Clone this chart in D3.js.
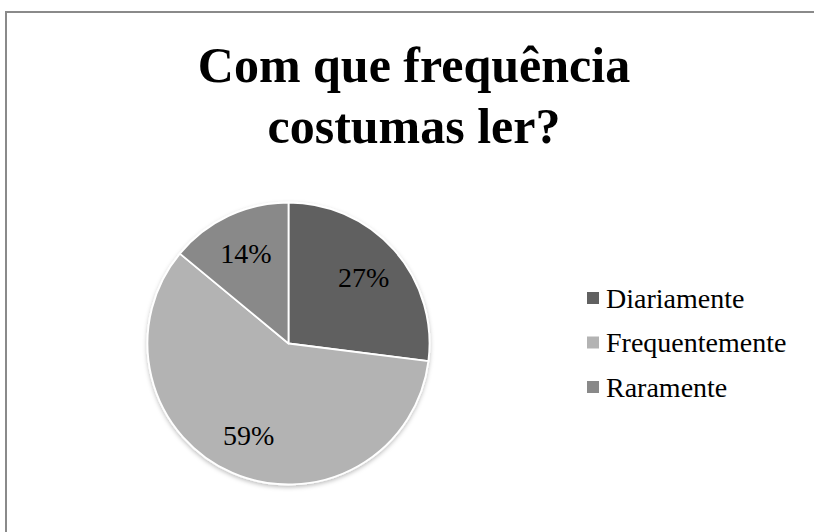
<!DOCTYPE html>
<html>
<head>
<meta charset="utf-8">
<script src="https://cdn.jsdelivr.net/npm/d3@7"></script>
<style>
  body { margin: 0; background: #fff; overflow: hidden; }
  svg { display: block; }
</style>
</head>
<body>
<script>
// data
var categories = ["Diariamente", "Frequentemente", "Raramente"];
var values = [27, 59, 14];
var titleLines = ["Com que frequência", "costumas ler?"];

var width = 814;
var height = 532;
var colors = ["#616161", "#b3b3b3", "#898989"];

var svg = d3.select("body")
  .append("svg")
  .attr("width", width)
  .attr("height", height);

// drop shadow for the pie
var defs = svg.append("defs");
var shadow = defs.append("filter")
  .attr("id", "shadow")
  .attr("x", "-10%").attr("y", "-10%")
  .attr("width", "120%").attr("height", "120%");
shadow.append("feDropShadow")
  .attr("dx", 0).attr("dy", 2)
  .attr("stdDeviation", 2)
  .attr("flood-color", "#000")
  .attr("flood-opacity", 0.25);

// chart frame: only top and left edges are in view
svg.append("path")
  .attr("d", "M6," + height + "V12H" + width)
  .style("fill", "none")
  .style("stroke", "#8a8a8a")
  .style("stroke-width", 2);

// Title
var title = svg.append("g")
  .attr("font-family", "'Liberation Serif', 'DejaVu Serif', serif")
  .attr("font-weight", "bold")
  .attr("font-size", 50)
  .attr("fill", "#000");

title.selectAll("text")
  .data(titleLines)
  .enter()
  .append("text")
  .attr("x", 414)
  .attr("y", function(d, i) { return 82 + i * 61; })
  .attr("text-anchor", "middle")
  .text(function(d) { return d; });

// Pie
var cx = 288.5, cy = 343.5, radius = 141;

var pie = d3.pie()
  .sort(null)
  .value(function(d) { return d; });

var arc = d3.arc()
  .innerRadius(0)
  .outerRadius(radius);

var labelArc = d3.arc()
  .innerRadius(radius * 0.71)
  .outerRadius(radius * 0.71);

var total = d3.sum(values);
var arcs = pie(values);

var g = svg.append("g")
  .attr("transform", "translate(" + cx + "," + cy + ")");

g.append("g")
  .attr("filter", "url(#shadow)")
  .selectAll("path")
  .data(arcs)
  .enter()
  .append("path")
  .attr("d", arc)
  .style("fill", function(d, i) { return colors[i]; })
  .style("stroke", "#fff")
  .style("stroke-width", 1.8)
  .style("stroke-linejoin", "round");

g.selectAll("text.label")
  .data(arcs)
  .enter()
  .append("text")
  .attr("class", "label")
  .attr("transform", function(d) { return "translate(" + labelArc.centroid(d) + ")"; })
  .attr("text-anchor", "middle")
  .attr("dy", "0.35em")
  .attr("font-family", "'Liberation Serif', 'DejaVu Serif', serif")
  .attr("font-size", 28)
  .attr("fill", "#000")
  .text(function(d) { return Math.round(d.data / total * 100) + "%"; });

// Legend
var legend = svg.append("g")
  .attr("transform", "translate(587,298)");

var row = legend.selectAll("g")
  .data(categories)
  .enter()
  .append("g")
  .attr("transform", function(d, i) { return "translate(0," + (i * 44.5) + ")"; });

row.append("rect")
  .attr("x", 0)
  .attr("y", -6)
  .attr("width", 12)
  .attr("height", 12)
  .style("fill", function(d, i) { return colors[i]; });

row.append("text")
  .attr("x", 19)
  .attr("dy", "0.35em")
  .attr("font-family", "'Liberation Serif', 'DejaVu Serif', serif")
  .attr("font-size", 28)
  .attr("fill", "#000")
  .text(function(d) { return d; });
</script>
</body>
</html>
